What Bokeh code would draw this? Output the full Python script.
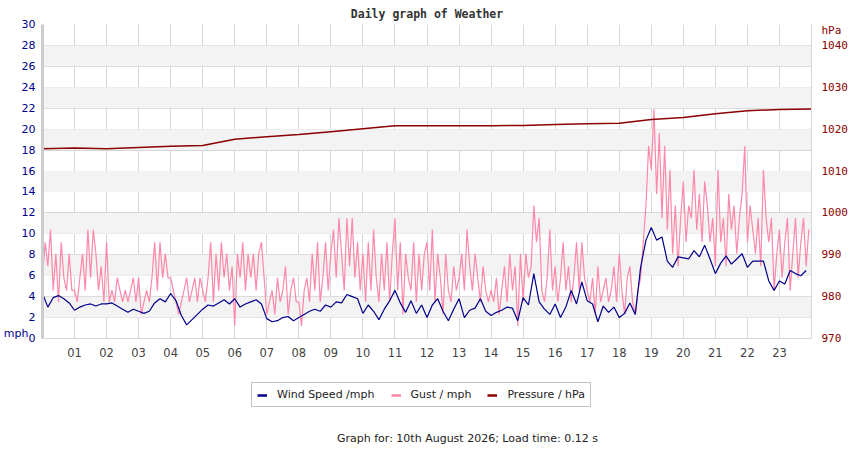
from bokeh.plotting import figure
from bokeh.layouts import column
from bokeh.models import (Range1d, LinearAxis, FixedTicker, Legend, LegendItem,
                          Label, BoxAnnotation)
from bokeh.embed import file_html
from bokeh.resources import INLINE

# wind speed, 10 minute readings (mph), one row per hour
wind_speed = [
    4.3, 3.0, 3.9, 4.1, 3.8, 3.4,
    2.7, 3.0, 3.2, 3.3, 3.1, 3.3,
    3.3, 3.4, 3.1, 2.8, 2.5, 2.8,
    2.6, 2.4, 2.6, 3.4, 3.8, 3.5,
    4.3, 3.6, 2.2, 1.3, 1.8, 2.3,
    2.8, 3.2, 3.1, 3.4, 3.7, 3.3,
    3.8, 3.0, 3.3, 3.5, 3.7, 3.3,
    1.9, 1.6, 1.7, 2.0, 2.1, 1.7,
    2.0, 2.3, 2.6, 2.8, 2.6, 3.2,
    3.0, 3.5, 3.4, 4.2, 4.0, 3.8,
    2.4, 3.2, 2.6, 1.8, 2.8, 3.6,
    4.6, 3.4, 2.5, 3.6, 2.4, 3.2,
    2.0, 3.2, 3.8, 2.6, 1.7, 2.8,
    3.8, 2.0, 2.7, 2.9, 3.8, 2.6,
    2.2, 2.5, 2.7, 3.0, 2.9, 1.7,
    3.9, 3.2, 6.2, 3.5, 2.8, 2.3,
    3.3, 2.0, 3.0, 4.6, 3.3, 5.4,
    3.6, 3.3, 1.6, 3.1, 2.5, 3.0,
    2.0, 2.4, 3.4, 2.3, 6.8, 9.4,
    10.6, 9.4, 9.7, 7.4, 6.8, 7.8,
    7.7, 7.6, 8.4, 7.8, 8.9, 7.6,
    6.2, 7.2, 7.9, 7.1, 7.6, 8.1,
    6.8, 7.4, 7.4, 7.4, 5.5, 4.6,
    5.5, 5.2, 6.5, 6.2, 6.0, 6.5,
]

# gusts, 5 minute readings (mph), one row per hour
gust = [
    5.8, 9.2, 6.9, 10.4, 4.6, 8.1, 3.5, 9.2, 5.8, 4.6, 8.1, 4.6,
    4.6, 3.5, 5.8, 8.1, 4.6, 10.4, 5.8, 10.4, 8.1, 4.6, 6.9, 3.5,
    9.2, 3.5, 4.6, 3.5, 5.8, 4.6, 3.5, 4.6, 3.5, 4.6, 5.8, 3.5,
    5.8, 2.3, 3.5, 4.6, 3.5, 5.8, 9.2, 4.6, 9.2, 5.8, 8.1, 5.8,
    5.8, 4.6, 3.5, 2.3, 3.5, 4.6, 5.8, 3.5, 4.6, 5.8, 3.5, 5.8,
    4.6, 3.5, 5.8, 9.2, 3.5, 8.1, 4.6, 9.2, 5.8, 8.1, 4.6, 6.9,
    1.2, 8.1, 5.8, 9.2, 4.6, 8.1, 5.8, 8.1, 4.6, 8.1, 9.2, 5.8,
    2.3, 3.5, 4.6, 2.3, 5.8, 3.5, 4.6, 6.9, 2.3, 4.6, 5.8, 3.5,
    3.5, 1.2, 4.6, 5.8, 3.5, 8.1, 4.6, 9.2, 3.5, 5.8, 9.2, 4.6,
    8.1, 10.4, 5.8, 11.5, 8.1, 4.6, 11.5, 6.9, 11.5, 5.8, 9.2, 4.6,
    8.1, 3.5, 9.2, 4.6, 10.4, 5.8, 3.5, 8.1, 4.6, 9.2, 3.5, 8.1,
    11.5, 4.6, 9.2, 2.3, 8.1, 5.8, 4.6, 9.2, 3.5, 8.1, 4.6, 8.1,
    9.2, 4.6, 10.4, 3.5, 8.1, 5.8, 2.3, 8.1, 4.6, 3.5, 6.9, 4.6,
    5.8, 8.1, 4.6, 10.4, 6.9, 4.6, 8.1, 5.8, 3.5, 6.9, 4.6, 3.5,
    4.6, 3.5, 5.8, 2.3, 4.6, 6.9, 3.5, 8.1, 4.6, 6.9, 1.2, 8.1,
    3.5, 8.1, 5.8, 6.9, 12.7, 9.2, 11.5, 4.6, 3.5, 5.8, 10.4, 4.6,
    6.9, 3.5, 5.8, 9.2, 4.6, 6.9, 3.5, 5.8, 9.2, 4.6, 9.2, 5.8,
    4.6, 3.5, 5.8, 2.3, 6.9, 3.5, 4.6, 5.8, 3.5, 4.6, 6.9, 3.5,
    8.1, 4.6, 2.3, 5.8, 6.9, 3.5, 2.3, 4.6, 5.8, 9.2, 12.7, 18.4,
    16.1, 21.9, 13.8, 19.6, 11.5, 18.4, 10.4, 16.1, 8.1, 12.7, 6.9, 11.5,
    15.0, 9.2, 12.7, 11.5, 16.1, 10.4, 13.8, 9.2, 15.0, 12.7, 9.2, 11.5,
    6.9, 16.1, 9.2, 11.5, 6.9, 13.8, 10.4, 12.7, 8.1, 11.5, 13.8, 18.4,
    9.2, 12.7, 10.4, 8.1, 11.5, 6.9, 16.1, 11.5, 9.2, 11.5, 4.6, 8.1,
    10.4, 5.8, 9.2, 11.5, 4.6, 8.1, 11.5, 5.8, 9.2, 11.5, 6.9, 10.4,
]

# pressure, hourly (hPa)
pressure = [1015.3, 1015.5, 1015.3, 1015.6, 1015.9, 1016.1, 1017.6, 1018.2,
            1018.7, 1019.4, 1020.1, 1020.8, 1020.8, 1020.8, 1020.8, 1020.9,
            1021.1, 1021.3, 1021.4, 1022.3, 1022.8, 1023.7, 1024.4, 1024.7,
            1024.8]

hour_labels = ["%02d" % h for h in range(1, 24)]
mph_ticks = list(range(0, 31, 2))
hpa_ticks = list(range(970, 1041, 10))

wind_x = [i / 6 for i in range(len(wind_speed))]
gust_x = [i / 12 for i in range(len(gust))]
pres_x = list(range(len(pressure)))

NAVY = "#00008b"
PINK = "#ff88aa"
DRED = "#8b0000"
GRID = "#d6d6d6"

p = figure(width=850, height=362,
           x_range=Range1d(0, 24), y_range=Range1d(0, 30),
           output_backend="svg", toolbar_location=None, tools="",
           min_border_left=40, min_border_right=38, min_border_top=24,
           min_border_bottom=24)
p.outline_line_color = None
p.background_fill_color = "white"
p.extra_y_ranges = {"hpa": Range1d(970, 1045)}

p.title.text = "Daily graph of Weather"
p.title.align = "center"
p.title.text_font = "DejaVu Sans Mono"
p.title.text_font_style = "bold"
p.title.text_font_size = "11.5px"
p.title.text_color = "#333333"
p.title.standoff = 7

# alternating bands
for lo in range(2, 30, 4):
    p.add_layout(BoxAnnotation(bottom=lo, top=lo + 2, fill_color="#f3f3f3",
                               fill_alpha=1, line_color=None, level="underlay"))

p.xgrid.ticker = FixedTicker(ticks=list(range(1, 25)))
p.ygrid.ticker = FixedTicker(ticks=mph_ticks)
p.xgrid.grid_line_color = GRID
p.ygrid.grid_line_color = GRID

# x axis
p.xaxis.ticker = FixedTicker(ticks=list(range(1, 24)))
p.xaxis.major_label_overrides = {h: lbl for h, lbl in zip(range(1, 24), hour_labels)}
p.xaxis.major_tick_line_color = None
p.xaxis.minor_tick_line_color = None
p.xaxis.major_tick_out = 0
p.xaxis.major_tick_in = 0
p.xaxis.axis_line_color = GRID
p.xaxis.major_label_text_color = "#444444"
p.xaxis.major_label_text_font = "DejaVu Sans"
p.xaxis.major_label_text_font_size = "11.5px"
p.xaxis.major_label_standoff = 9

# left axis, with the unit written beside the zero
p.yaxis.ticker = FixedTicker(ticks=mph_ticks + [0.48])
p.yaxis.major_label_overrides = {0.48: "mph\u00a0\u00a0"}
p.yaxis.major_tick_line_color = None
p.yaxis.minor_tick_line_color = None
p.yaxis.major_tick_out = 0
p.yaxis.major_tick_in = 0
p.yaxis.axis_line_color = "#cccccc"
p.yaxis.axis_line_width = 3
p.yaxis.major_label_text_color = NAVY
p.yaxis.major_label_text_font = "DejaVu Sans"
p.yaxis.major_label_text_font_size = "11px"
p.yaxis.major_label_standoff = 7

# right axis, unit on top
ax_r = LinearAxis(y_range_name="hpa", ticker=FixedTicker(ticks=hpa_ticks + [1043.6]))
ax_r.major_label_overrides = {1043.6: "hPa"}
ax_r.major_tick_line_color = None
ax_r.minor_tick_line_color = None
ax_r.major_tick_out = 0
ax_r.major_tick_in = 0
ax_r.axis_line_color = GRID
ax_r.major_label_text_color = DRED
ax_r.major_label_text_font = "DejaVu Sans Mono"
ax_r.major_label_text_font_size = "11px"
ax_r.major_label_standoff = 10
p.add_layout(ax_r, "right")

p.line(gust_x, gust, line_color=PINK, line_width=1.2)
p.line(wind_x, wind_speed, line_color=NAVY, line_width=1.2)
p.line(pres_x, pressure, line_color=DRED, line_width=1.5, y_range_name="hpa")

# strip under the chart: legend box and footer line
foot = figure(width=850, height=88, x_range=Range1d(0, 1), y_range=Range1d(0, 1),
              x_axis_type=None, y_axis_type=None,
              output_backend="svg", toolbar_location=None, tools="",
              min_border=0)
foot.outline_line_color = None
foot.grid.visible = False

# one-point lines (outside this strip's range) only feed the legend swatches
k_wind = foot.line(wind_x[:1], wind_speed[:1], line_color=NAVY, line_width=2.5)
k_gust = foot.line(gust_x[:1], gust[:1], line_color=PINK, line_width=2.5)
k_pres = foot.line(pres_x[:1], pressure[:1], line_color=DRED, line_width=2.5)

legend = Legend(items=[LegendItem(label="Wind Speed /mph", renderers=[k_wind]),
                       LegendItem(label="Gust / mph", renderers=[k_gust]),
                       LegendItem(label="Pressure / hPa", renderers=[k_pres])],
                orientation="horizontal", location=(209, 43),
                border_line_color="#888888", border_line_width=1,
                background_fill_alpha=1, label_text_font="DejaVu Sans",
                label_text_font_size="11px", label_text_color="#222222",
                glyph_width=10, glyph_height=12, spacing=16, padding=5,
                margin=0, label_standoff=10, label_height=13)
foot.add_layout(legend, "center")

foot.add_layout(Label(x=425, y=12, x_units="screen", y_units="screen",
                      text="Graph for: 10th August 2026; Load time: 0.12 s",
                      text_font="DejaVu Sans", text_font_size="11px",
                      text_color="#222222", text_align="center",
                      text_baseline="middle"))

open("out.html", "w").write(file_html(column(p, foot, spacing=0), INLINE))
